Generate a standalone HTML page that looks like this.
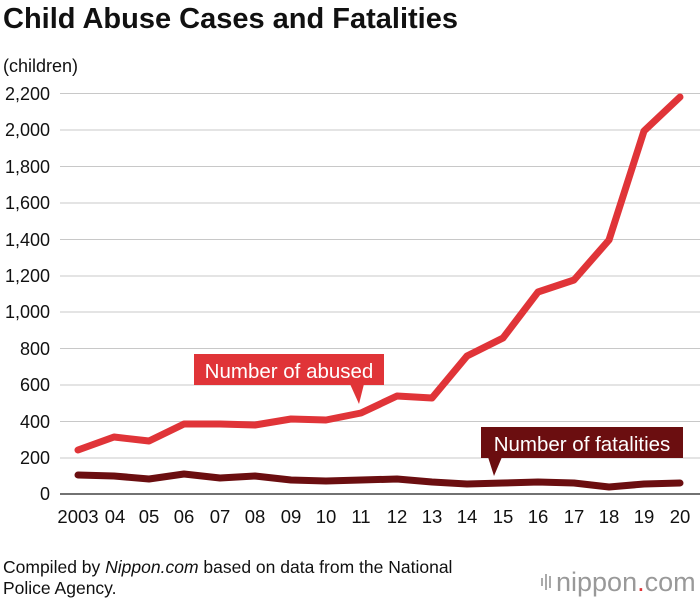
<!DOCTYPE html>
<html><head><meta charset="utf-8"><style>
body{margin:0;background:#fff;width:700px;height:599px;overflow:hidden;font-family:"Liberation Sans",Arial,sans-serif}
</style></head><body>
<svg width="700" height="599" xmlns="http://www.w3.org/2000/svg" font-family="Liberation Sans, Arial, sans-serif">
<text x="3" y="28" font-size="29" font-weight="bold" fill="#111">Child Abuse Cases and Fatalities</text>
<text x="3" y="72" font-size="18" fill="#111">(children)</text>
<g stroke="#c8c8c8" stroke-width="1">
<line x1="60" x2="700" y1="93.5" y2="93.5"/><line x1="60" x2="700" y1="130" y2="130"/>
<line x1="60" x2="700" y1="166.5" y2="166.5"/><line x1="60" x2="700" y1="203" y2="203"/>
<line x1="60" x2="700" y1="239.5" y2="239.5"/><line x1="60" x2="700" y1="276" y2="276"/>
<line x1="60" x2="700" y1="312" y2="312"/><line x1="60" x2="700" y1="348.5" y2="348.5"/>
<line x1="60" x2="700" y1="385" y2="385"/><line x1="60" x2="700" y1="421.5" y2="421.5"/>
<line x1="60" x2="700" y1="458" y2="458"/>
</g>
<line x1="60" x2="700" y1="494" y2="494" stroke="#444" stroke-width="1.5"/>
<g font-size="18" fill="#111" text-anchor="end">
<text x="50" y="100">2,200</text><text x="50" y="136">2,000</text><text x="50" y="173">1,800</text>
<text x="50" y="209">1,600</text><text x="50" y="246">1,400</text><text x="50" y="282">1,200</text>
<text x="50" y="318">1,000</text><text x="50" y="355">800</text><text x="50" y="391">600</text>
<text x="50" y="428">400</text><text x="50" y="464">200</text><text x="50" y="500">0</text>
</g>
<g font-size="18.5" fill="#111" text-anchor="middle">
<text x="78" y="523">2003</text><text x="115" y="523">04</text><text x="149" y="523">05</text>
<text x="184" y="523">06</text><text x="220" y="523">07</text><text x="255" y="523">08</text>
<text x="291" y="523">09</text><text x="326" y="523">10</text><text x="361" y="523">11</text>
<text x="397" y="523">12</text><text x="432" y="523">13</text><text x="467" y="523">14</text>
<text x="503" y="523">15</text><text x="538" y="523">16</text><text x="574" y="523">17</text>
<text x="609" y="523">18</text><text x="644" y="523">19</text><text x="680" y="523">20</text>
</g>
<polyline fill="none" stroke="#6b0e10" stroke-width="7" stroke-linejoin="round" stroke-linecap="round" points="78,475 114,476 149,479 184,474 220,478 255,476 291,480 326,481 361,480 397,479 432,482 467,484 503,483 538,482 574,483 609,487 644,484 680,483"/>
<polyline fill="none" stroke="#e03438" stroke-width="7" stroke-linejoin="round" stroke-linecap="round" points="78,450 114,437 149,441 184,424 220,424 255,425 291,419 326,420 361,413 397,396 432,398 467,356 503,338 538,292 574,280 609,240 644,131 680,97"/>
<rect x="194" y="354" width="190" height="31" fill="#e03438"/>
<polygon points="350,384 364,384 359,404" fill="#e03438"/>
<text x="289" y="378" font-size="20.5" fill="#fff" text-anchor="middle">Number of abused</text>
<rect x="481" y="427" width="202" height="31" fill="#6b0e10"/>
<polygon points="488,457 502,457 494,476" fill="#6b0e10"/>
<text x="582" y="451" font-size="20.5" fill="#fff" text-anchor="middle">Number of fatalities</text>
<text x="3" y="573" font-size="17.5" fill="#111">Compiled by <tspan font-style="italic">Nippon.com</tspan> based on data from the National</text>
<text x="3" y="594" font-size="17.5" fill="#111">Police Agency.</text>
<g fill="#aaa"><rect x="541" y="578" width="2" height="8"/><rect x="545" y="574" width="2" height="16"/><rect x="549" y="576" width="2" height="12"/></g>
<text x="556" y="591" font-size="27" fill="#999">nippon<tspan fill="#e03438">.</tspan>com</text>
</svg>
</body></html>
